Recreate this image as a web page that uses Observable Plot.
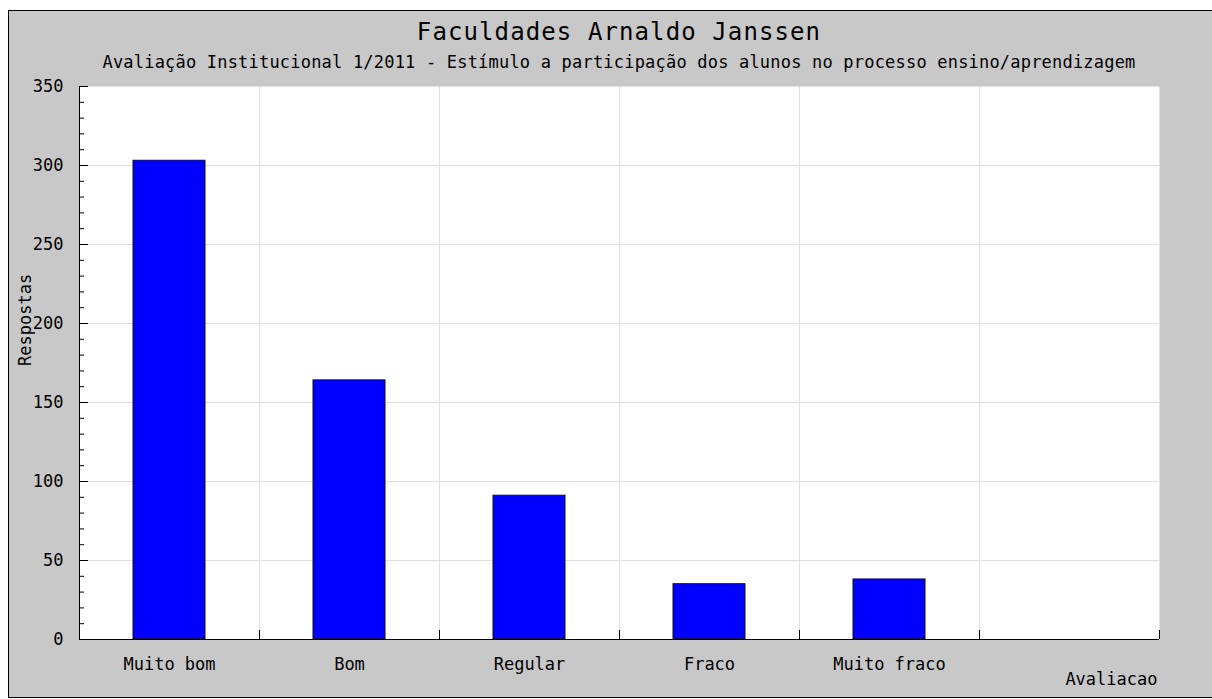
<!DOCTYPE html>
<html>
<head>
<meta charset="utf-8">
<script src="https://cdn.jsdelivr.net/npm/d3@7"></script>
<script src="https://cdn.jsdelivr.net/npm/@observablehq/plot@0.6"></script>
<style>
  body { margin:0; background:#fff; width:1212px; height:699px; position:relative; overflow:hidden; font-family:"DejaVu Sans Mono", monospace; color:#000; }
  #bg { position:absolute; left:8px; top:10px; width:1204px; height:688px; box-sizing:border-box; background:#c8c8c8; border:1px solid #000; border-right:none; }
  #title { position:absolute; left:79px; width:1080px; top:20px; font-size:24px; line-height:24px; text-align:center; letter-spacing:1.1px; white-space:nowrap; }
  #subtitle { position:absolute; left:79px; width:1080px; top:54px; font-size:17px; line-height:17px; text-align:center; letter-spacing:0.2px; white-space:nowrap; }
  #chart { position:absolute; left:0; top:75px; }
</style>
</head>
<body>
<div id="bg"></div>
<div id="title"></div>
<div id="subtitle"></div>
<div id="chart"></div>
<script>
const titleText = "Faculdades Arnaldo Janssen";
const subtitleText = "Avaliação Institucional 1/2011 - Estímulo a participação dos alunos no processo ensino/aprendizagem";
const categories = ["Muito bom", "Bom", "Regular", "Fraco", "Muito fraco"];
const respostas = [303, 164, 91, 35, 38];
const yTicks = [0, 50, 100, 150, 200, 250, 300, 350];
const yMinorTicks = [10, 20, 30, 40, 60, 70, 80, 90, 110, 120, 130, 140, 160, 170, 180, 190, 210, 220, 230, 240, 260, 270, 280, 290, 310, 320, 330, 340];
const yLabel = "Respostas";
const xLabel = "Avaliacao";

document.getElementById("title").textContent = titleText;
document.getElementById("subtitle").textContent = subtitleText;

const data = categories.map((c, i) => ({cat: c, n: respostas[i]}));
const domainX = [...categories, ""];

const W = 1212, H = 624, ML = 79, MR = 53, MT = 11, MB = 60;
const PW = W - ML - MR, PH = H - MT - MB;
const step = PW / domainX.length;
const grid = "#e0e0e0";

const chart = Plot.plot({
  width: W, height: H,
  marginLeft: ML, marginRight: MR, marginTop: MT, marginBottom: MB,
  style: {background: "transparent", fontFamily: "DejaVu Sans Mono, monospace", fontSize: "17px", color: "#000", overflow: "visible"},
  x: {domain: domainX, paddingInner: 0.6, paddingOuter: 0.3, align: 0.5, label: null},
  y: {domain: [0, 350], label: null},
  marks: [
    Plot.frame({fill: "#ffffff", stroke: null}),
    Plot.ruleY(yTicks.slice(1, -1), {y: d => d, stroke: grid}),
    Plot.ruleX(categories, {x: d => d, dx: step / 2, stroke: grid}),
    Plot.barY(data, {x: "cat", y: "n", fill: "#0000ff", stroke: "#111", strokeWidth: 1}),
    Plot.ruleY([0], {y: d => d, stroke: "#000"}),
    Plot.ruleX([domainX[0]], {x: d => d, dx: -step / 2, stroke: "#000"}),
    Plot.tickY(yMinorTicks, {y: d => d, insetRight: PW - 5, stroke: "#000"}),
    Plot.tickY(yTicks, {y: d => d, insetRight: PW - 9, stroke: "#000"}),
    Plot.tickX(domainX, {x: d => d, dx: step / 2, insetTop: PH - 9, stroke: "#000"}),
    Plot.axisY({ticks: yTicks, tickSize: 0, tickPadding: 16, fontSize: 17, label: null}),
    Plot.axisX({tickSize: 0, tickPadding: 18, fontSize: 17, label: null}),
    Plot.text([yLabel], {text: d => d, frameAnchor: "left", dx: -54, dy: 3, rotate: -90, fontSize: 17, fill: "#000"}),
    Plot.text([xLabel], {text: d => d, frameAnchor: "bottom-right", textAnchor: "end", dx: -2, dy: 45, fontSize: 17, fill: "#000"})
  ]
});
document.getElementById("chart").appendChild(chart);
</script>
</body>
</html>
